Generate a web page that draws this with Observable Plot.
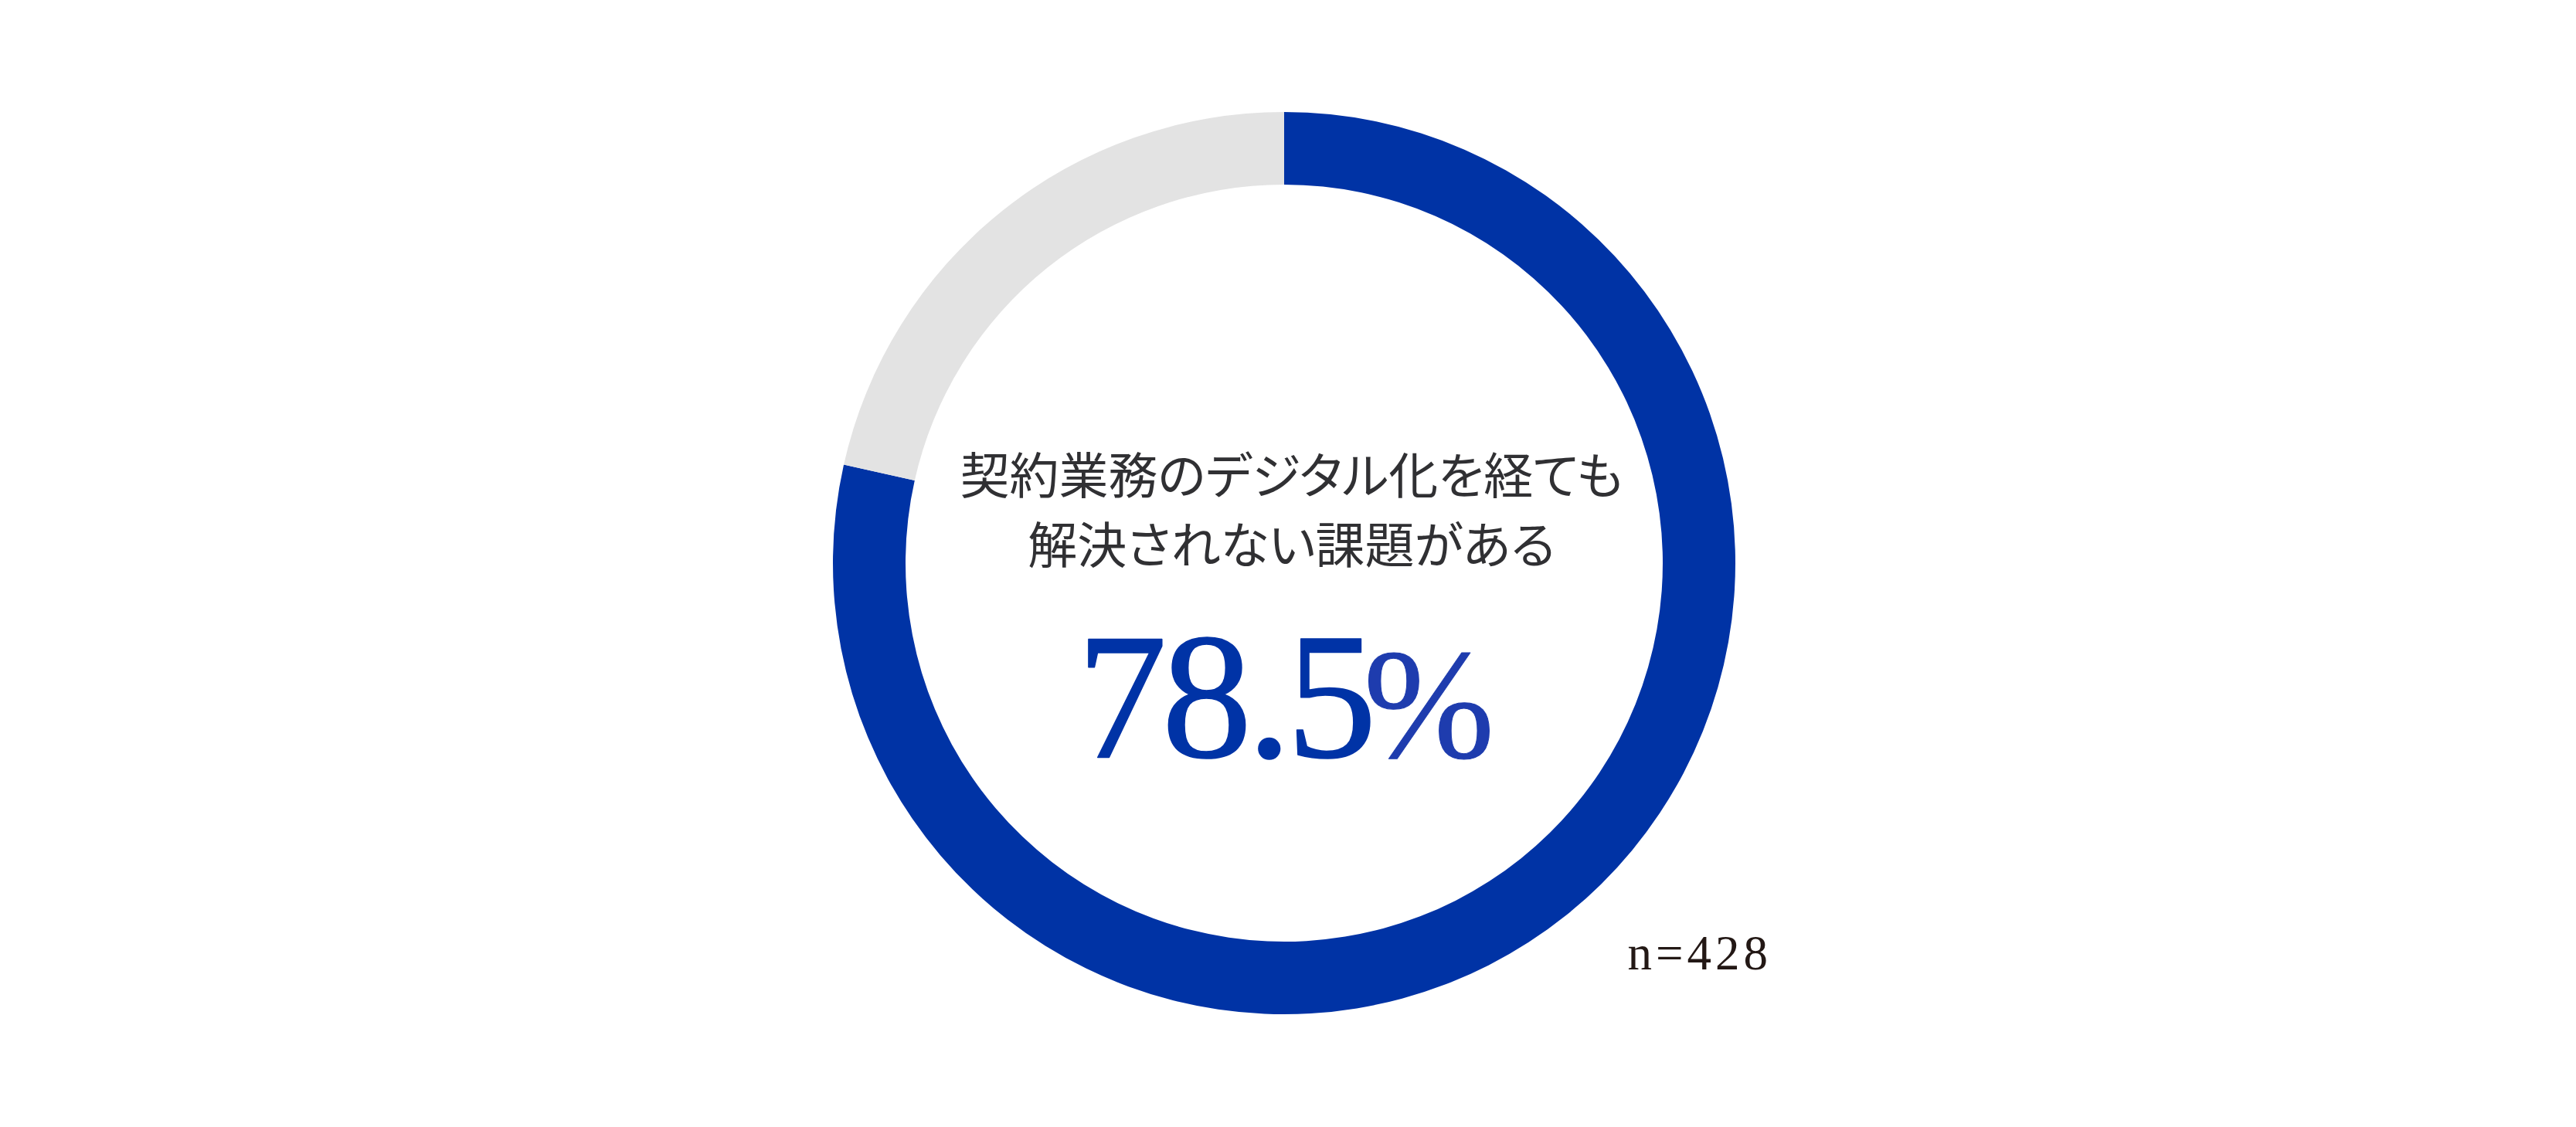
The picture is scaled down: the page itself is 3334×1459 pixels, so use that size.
<!DOCTYPE html>
<html><head><meta charset="utf-8">
<script src="https://cdn.jsdelivr.net/npm/d3@7"></script>
<script src="https://cdn.jsdelivr.net/npm/@observablehq/plot@0.6"></script>
<style>
html,body{margin:0;padding:0;background:#fff;overflow:hidden;}
g[font-family="Noto Sans CJK JP"] text{font-feature-settings:"palt";}
g[font-size="234"] text{letter-spacing:-7px;}
g[font-size="63"] text{letter-spacing:5px;}
</style>
</head><body><div id="chart"></div>
<script>
// ---- data ----
const categories = ["解決されない課題がある", "その他"];
const shares = [78.5, 21.5];
const segmentColors = ["#0033a5", "#e3e3e3"];
const headline = ["契約業務のデジタル化を経ても", "解決されない課題がある"];
const valueText = ["78.5"];
const unitText = ["%"];
const sampleLabel = ["n=428"];

const data = categories.map((c, i) => ({category: c, share: shares[i]}));
const W = 3334, H = 1459;
const color = d3.scaleOrdinal(categories, segmentColors);

function donut(index, scales, values, dimensions) {
  const {width, height} = dimensions;
  const cx = width / 2 - 5, cy = height / 2 - 0.5;
  const pie = d3.pie().value(d => d.share).sort(null);
  const arc = d3.arc().innerRadius(490).outerRadius(584);
  const g = d3.create("svg:g").attr("transform", `translate(${cx},${cy})`);
  g.selectAll("path").data(pie(data)).join("path")
    .attr("d", arc)
    .attr("fill", d => color(d.data.category));
  return g.node();
}

const cxF = W / 2, cyF = H / 2;
const chart = Plot.plot({
  width: W,
  height: H,
  margin: 0,
  style: {background: "#fff"},
  marks: [
    donut,
    Plot.text([headline[0]], {text: d => d, frameAnchor: "middle", dx: 1671 - cxF, dy: 638 - cyF,
      lineAnchor: "bottom", fontSize: 64, fill: "#303033", fontFamily: "Noto Sans CJK JP"}),
    Plot.text([headline[1]], {text: d => d, frameAnchor: "middle", dx: 1671 - cxF, dy: 728 - cyF,
      lineAnchor: "bottom", fontSize: 64, fill: "#303033", fontFamily: "Noto Sans CJK JP"}),
    Plot.text(valueText, {text: d => d, frameAnchor: "middle", textAnchor: "start", dx: 1393 - cxF, dy: 979 - cyF,
      lineAnchor: "bottom", fontSize: 234, fill: "#0033a6", stroke: "#0033a6", strokeWidth: 1.5,
      fontFamily: "Liberation Serif"}),
    Plot.text(unitText, {text: d => d, frameAnchor: "middle", textAnchor: "start", dx: 1764 - cxF, dy: 979 - cyF,
      lineAnchor: "bottom", fontSize: 204, fill: "#1e3cae", stroke: "#1e3cae", strokeWidth: 1,
      fontFamily: "Liberation Serif"}),
    Plot.text(sampleLabel, {text: d => d, frameAnchor: "middle", textAnchor: "start", dx: 2106 - cxF, dy: 1254 - cyF,
      lineAnchor: "bottom", fontSize: 63, fill: "#231815", fontFamily: "Liberation Serif"})
  ]
});
document.getElementById("chart").appendChild(chart);
</script>
</body></html>
